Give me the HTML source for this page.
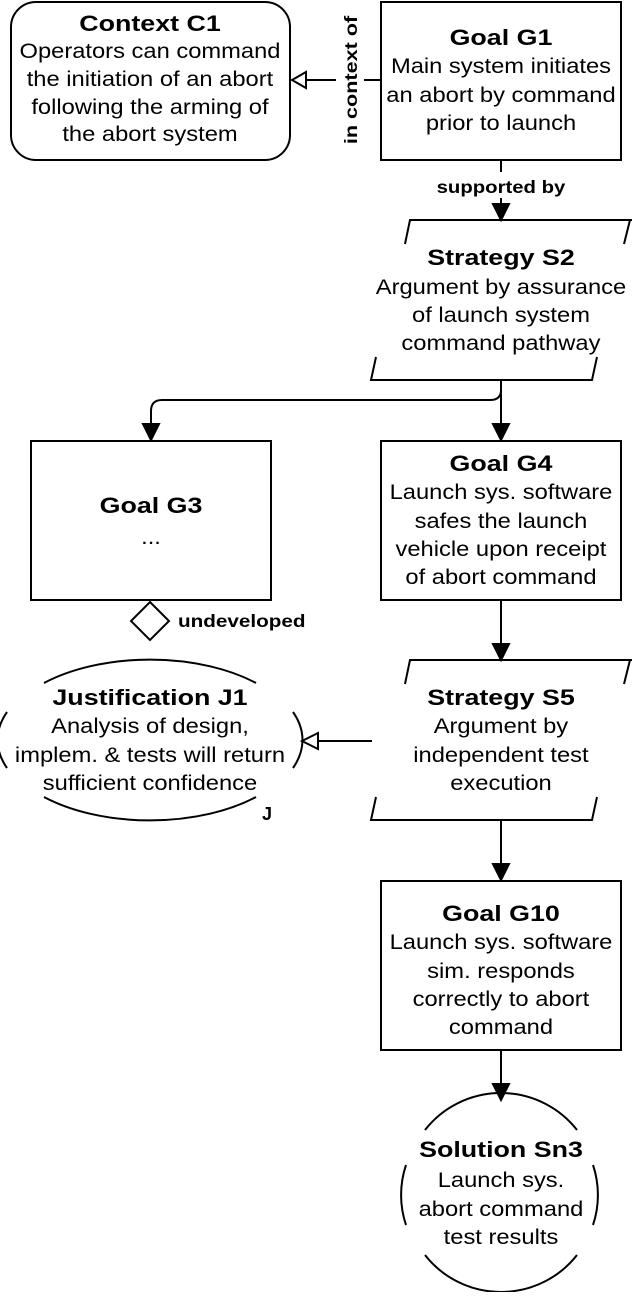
<!DOCTYPE html>
<html><head><style>
html,body{margin:0;padding:0;background:#fff;}
svg text{font-family:"Liberation Sans",Arial,sans-serif;font-size:21px;fill:#000;}
.t{transform-box:fill-box;transform-origin:center;transform:scaleX(1.13);}
.b{font-weight:bold;font-size:22px;transform:scaleX(1.22);}
.s{font-size:18px;font-weight:bold;}
.sl{transform-box:fill-box;transform-origin:left center;transform:scaleX(1.15);}
</style></head><body>
<svg width="632" height="1292" viewBox="0 0 632 1292" xmlns="http://www.w3.org/2000/svg">
<g fill="none" stroke="#000" stroke-width="2">
<rect x="11" y="2" width="279" height="158" rx="25"/>
<rect x="381" y="2" width="240" height="158"/>
<line x1="381" y1="80" x2="364" y2="80"/>
<line x1="336" y1="80" x2="306" y2="80"/>
<path d="M306,72 L292,80 L306,88 Z" fill="#fff"/>
<line x1="501" y1="160" x2="501" y2="172"/>
<line x1="501" y1="198" x2="501" y2="205"/>
<path d="M493,204 L501,220 L509,204 Z" fill="#000"/>
<path d="M405,244 L410,220 L632,220"/>
<path d="M624,244 L630,220"/>
<path d="M376,357 L371,380 L592,380 L597,357"/>
<line x1="501" y1="380" x2="501" y2="425"/>
<path d="M493,424 L501,440 L509,424 Z" fill="#000"/>
<path d="M501,390 Q501,400 490,400 L162,400 Q151,400 151,411 L151,425"/>
<path d="M143,424 L151,440 L159,424 Z" fill="#000"/>
<rect x="31" y="441" width="240" height="159"/>
<path d="M150,602 L169,621 L150,640 L131,621 Z"/>
<rect x="381" y="441" width="240" height="159"/>
<line x1="501" y1="600" x2="501" y2="645"/>
<path d="M493,644 L501,660 L509,644 Z" fill="#000"/>
<path d="M405,684 L410,660 L632,660"/>
<path d="M624,684 L630,660"/>
<path d="M376,797 L371,820 L592,820 L597,797"/>
<line x1="372" y1="741" x2="318" y2="741"/>
<path d="M318,733 L302,741 L318,749 Z" fill="#fff"/>
<path d="M44,683 A150,80 0 0,1 256,683"/>
<path d="M44,797 A150,80 0 0,0 256,797"/>
<path d="M7,712 A150,80 0 0,0 7,768"/>
<path d="M293,712 A150,80 0 0,1 293,768"/>
<line x1="501" y1="820" x2="501" y2="865"/>
<path d="M493,864 L501,880 L509,864 Z" fill="#000"/>
<rect x="381" y="881" width="240" height="169"/>
<line x1="501" y1="1050" x2="501" y2="1085"/>
<path d="M493,1084 L501,1100 L509,1084 Z" fill="#000"/>
<path d="M425,1130 A96,95 0 0,1 577,1130"/>
<path d="M425,1255 A96,95 0 0,0 577,1255"/>
<path d="M406,1165 A96,95 0 0,0 406,1225"/>
<path d="M593,1165 A96,95 0 0,1 593,1225"/>
</g>
<g text-anchor="middle">
<text x="150" y="31" class="t b">Context C1</text>
<text x="150" y="58" class="t">Operators can command</text>
<text x="150" y="86" class="t">the initiation of an abort</text>
<text x="150" y="114" class="t">following the arming of</text>
<text x="150" y="141" class="t">the abort system</text>
<text x="501" y="45" class="t b">Goal G1</text>
<text x="501" y="73" class="t">Main system initiates</text>
<text x="501" y="102" class="t">an abort by command</text>
<text x="501" y="130" class="t">prior to launch</text>
<text class="s" transform="translate(357,80) rotate(-90) scale(1.2,1)">in context of</text>
<text x="501" y="193" class="t s">supported by</text>
<text x="501" y="265" class="t b">Strategy S2</text>
<text x="501" y="294" class="t">Argument by assurance</text>
<text x="501" y="322" class="t">of launch system</text>
<text x="501" y="350" class="t">command pathway</text>
<text x="151" y="513" class="t b">Goal G3</text>
<text x="151" y="544" class="t">...</text>
<text x="501" y="471" class="t b">Goal G4</text>
<text x="501" y="499" class="t">Launch sys. software</text>
<text x="501" y="528" class="t">safes the launch</text>
<text x="501" y="556" class="t">vehicle upon receipt</text>
<text x="501" y="584" class="t">of abort command</text>
<text x="501" y="705" class="t b">Strategy S5</text>
<text x="501" y="733" class="t">Argument by</text>
<text x="501" y="762" class="t">independent test</text>
<text x="501" y="790" class="t">execution</text>
<text x="150" y="705" class="t b">Justification J1</text>
<text x="150" y="733" class="t">Analysis of design,</text>
<text x="150" y="762" class="t">implem. &amp; tests will return</text>
<text x="150" y="790" class="t">sufficient confidence</text>
<text x="501" y="921" class="t b">Goal G10</text>
<text x="501" y="949" class="t">Launch sys. software</text>
<text x="501" y="978" class="t">sim. responds</text>
<text x="501" y="1006" class="t">correctly to abort</text>
<text x="501" y="1034" class="t">command</text>
<text x="501" y="1157" class="t b">Solution Sn3</text>
<text x="501" y="1187" class="t">Launch sys.</text>
<text x="501" y="1216" class="t">abort command</text>
<text x="501" y="1244" class="t">test results</text>
</g>
<text x="178" y="627" class="s sl">undeveloped</text>
<text x="262" y="820" class="s">J</text>
</svg>
</body></html>
